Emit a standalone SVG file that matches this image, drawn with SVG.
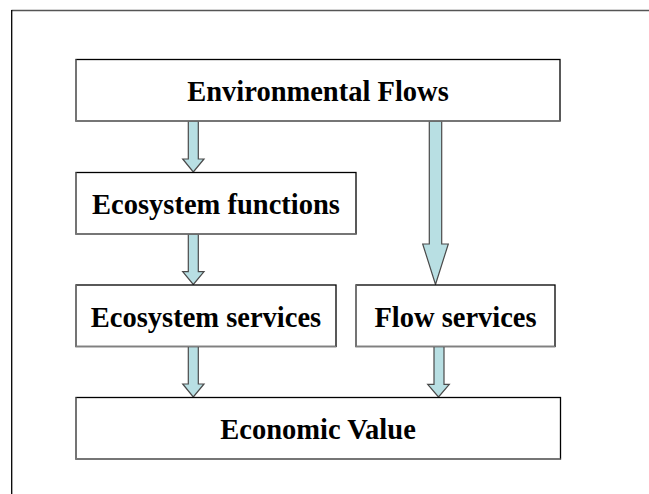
<svg xmlns="http://www.w3.org/2000/svg" width="649" height="494" viewBox="0 0 649 494">
<style>
.box{fill:#fff;stroke:#000;stroke-width:1.3}
.shade{fill:none;stroke:#808080;stroke-width:1.4}
.lbl{font-family:"Liberation Serif","Times New Roman",serif;font-weight:bold;font-size:28.5px;fill:#000;text-anchor:middle}
.arr{fill:#b8dfe3;stroke:#4a4a4a;stroke-width:1.2;stroke-linejoin:miter}
</style>
<rect x="0" y="0" width="649" height="494" fill="#fff"/>
<g id="frame">
<line x1="11.5" y1="10.5" x2="649" y2="10.5" stroke="#555" stroke-width="1.6"/>
<line x1="11.7" y1="10" x2="11.7" y2="494" stroke="#000" stroke-width="1.3"/>
</g>
<g id="connectors">
<polygon class="arr" points="188.3,121 198.3,121 198.3,159 204,159 193.3,172 182.7,159 188.3,159"/>
<polygon class="arr" points="188.3,234 198.3,234 198.3,271.7 204,271.7 193.3,284.5 182.7,271.7 188.3,271.7"/>
<polygon class="arr" points="188.3,346.5 198.3,346.5 198.3,384 204,384 193.3,397 182.7,384 188.3,384"/>
<polygon class="arr" points="429.3,121 441.7,121 441.7,244 448.3,244 435.5,284.5 422.7,244 429.3,244"/>
<polygon class="arr" points="434,346.5 444,346.5 444,384.3 449.3,384.3 438.5,397 427.7,384.3 434,384.3"/>
</g>
<g id="environmental-flows">
<rect class="box" x="76" y="59.5" width="484" height="61.5"/>
<polyline class="shade" points="76,59.5 76,121 560,121"/>
<text class="lbl" x="318" y="101">Environmental Flows</text>
</g>
<g id="ecosystem-functions">
<rect class="box" x="76" y="172.5" width="280" height="61.5"/>
<polyline class="shade" points="76,172.5 76,234 356,234"/>
<text class="lbl" x="216" y="214">Ecosystem functions</text>
</g>
<g id="ecosystem-services">
<rect class="box" x="76" y="285" width="260" height="61.5"/>
<polyline class="shade" points="76,285 76,346.5 336,346.5"/>
<text class="lbl" x="206" y="326.5">Ecosystem services</text>
</g>
<g id="flow-services">
<rect class="box" x="356" y="285" width="199" height="61.5"/>
<polyline class="shade" points="356,285 356,346.5 555,346.5"/>
<text class="lbl" x="455.5" y="326.5">Flow services</text>
</g>
<g id="economic-value">
<rect class="box" x="76" y="397.5" width="484.5" height="61.5"/>
<polyline class="shade" points="76,397.5 76,459 560.5,459"/>
<text class="lbl" x="318" y="438.5">Economic Value</text>
</g>
</svg>
